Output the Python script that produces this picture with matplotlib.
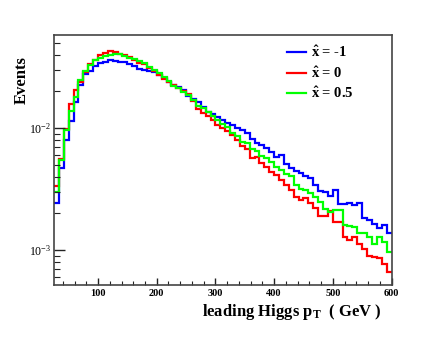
import numpy as np
import matplotlib
matplotlib.use("Agg")
import matplotlib.pyplot as plt
from matplotlib.ticker import MultipleLocator, LogLocator, FixedLocator, FixedFormatter, NullFormatter

plt.rcParams['font.family'] = ['Liberation Serif', 'DejaVu Serif']
plt.rcParams['mathtext.fontset'] = 'custom'
plt.rcParams['mathtext.rm'] = 'Liberation Serif:bold'
plt.rcParams['mathtext.it'] = 'Liberation Serif:bold'
plt.rcParams['mathtext.bf'] = 'Liberation Serif:bold'
plt.rcParams['mathtext.sf'] = 'Liberation Serif'

# histogram binning: 72 bins over 0-600 GeV, shown from 25 GeV
bin_width = 600.0 / 72
edges = bin_width * np.arange(3, 73)

blue = [0.00244, 0.00468, 0.00802, 0.0115, 0.0164, 0.0226, 0.0279, 0.0295, 0.0324, 0.0340,
        0.0349, 0.0366, 0.0353, 0.0352, 0.0349, 0.0337, 0.0324, 0.0306, 0.0301, 0.0295,
        0.0289, 0.0273, 0.0258, 0.0240, 0.0226, 0.0216, 0.0204, 0.0184, 0.0174, 0.0164,
        0.0148, 0.0137, 0.0131, 0.0124, 0.0117, 0.0111, 0.0106, 0.0101, 0.00969, 0.00915,
        0.00817, 0.00758, 0.00730, 0.00690, 0.00639, 0.00582, 0.00604, 0.00510, 0.00473, 0.00447,
        0.00430, 0.00406, 0.00392, 0.00343, 0.00306, 0.00301, 0.00279, 0.00312, 0.00240, 0.00240,
        0.00244, 0.00235, 0.00244, 0.00184, 0.00177, 0.00164, 0.00152, 0.00161, 0.00139]

red = [0.00337, 0.0056, 0.00987, 0.0158, 0.0206, 0.0241, 0.0288, 0.0335, 0.0363, 0.0399,
       0.0412, 0.0430, 0.0422, 0.0406, 0.0399, 0.0384, 0.0363, 0.0345, 0.0337, 0.0312,
       0.0295, 0.0273, 0.0254, 0.0240, 0.0226, 0.0214, 0.0202, 0.0191, 0.0167, 0.0144,
       0.0134, 0.0126, 0.0117, 0.0106, 0.0101, 0.0095, 0.00881, 0.00802, 0.00716, 0.00676,
       0.00571, 0.00582, 0.00520, 0.00482, 0.00438, 0.00414, 0.00377, 0.00343, 0.00312, 0.00274,
       0.00259, 0.00268, 0.00244, 0.00222, 0.00191, 0.00191, 0.00210, 0.00171, 0.00171, 0.00129,
       0.00121, 0.00129, 0.00111, 0.00101, 0.000898, 0.000881, 0.000865, 0.000772, 0.000664]

green = [0.00301, 0.0055, 0.00969, 0.0139, 0.0181, 0.0249, 0.0295, 0.0330, 0.0360, 0.0377,
         0.0388, 0.0399, 0.0406, 0.0403, 0.0391, 0.0379, 0.0370, 0.0356, 0.0343, 0.0318,
         0.0301, 0.0284, 0.0263, 0.0244, 0.0222, 0.0214, 0.0198, 0.0188, 0.0171, 0.0152,
         0.0147, 0.0136, 0.0126, 0.0117, 0.0108, 0.0103, 0.00915, 0.00865, 0.00772, 0.00758,
         0.00676, 0.00651, 0.00593, 0.00571, 0.00529, 0.00482, 0.00455, 0.00422, 0.00406, 0.00343,
         0.00318, 0.00312, 0.00295, 0.00274, 0.00249, 0.00218, 0.00206, 0.00214, 0.00214, 0.00161,
         0.00158, 0.00155, 0.00139, 0.00139, 0.00129, 0.00113, 0.00129, 0.00117, 0.00097]

series = [(blue, '#0000ff', r'$\hat{x}$ = -1'),
          (red, '#ff0000', r'$\hat{x}$ = 0'),
          (green, '#00ff00', r'$\hat{x}$ = 0.5')]

W, H = 436, 354
fig = plt.figure(figsize=(W / 100, H / 100), dpi=100)
fig.patch.set_facecolor('white')
L, R, T, B = 54, 391.5, 34.7, 285
ax = fig.add_axes([L / W, 1 - B / H, (R - L) / W, (B - T) / H])

for vals, col, lab in series:
    ax.stairs(vals, edges, baseline=None, color=col, lw=1.6, label=lab)

ax.set_yscale('log')
ax.set_xlim(25, 600)
ax.set_ylim(5.16e-4, 0.0585)

for s in ax.spines.values():
    s.set_color('#444444')
    s.set_linewidth(1.2)

ax.xaxis.set_major_locator(FixedLocator([100, 200, 300, 400, 500, 600]))
ax.xaxis.set_minor_locator(MultipleLocator(20))
ax.tick_params(axis='x', which='major', direction='in', length=5, width=1, color='#222222',
               labelsize=7.5, pad=3, top=False)
ax.tick_params(axis='x', which='minor', direction='in', length=2.8, width=0.8, color='#222222', top=False)
for t in ax.get_xticklabels():
    t.set_fontweight('bold')

ax.yaxis.set_major_locator(FixedLocator([1e-3, 1e-2]))
ax.yaxis.set_major_formatter(FixedFormatter([r'$\mathsf{10^{-3}}$', r'$\mathsf{10^{-2}}$']))
ax.yaxis.set_minor_locator(LogLocator(base=10, subs=np.arange(2, 10), numticks=20))
ax.yaxis.set_minor_formatter(NullFormatter())
ax.tick_params(axis='y', which='major', direction='in', length=8, width=1, color='#222222',
               labelsize=8.5, pad=2, right=False)
ax.tick_params(axis='y', which='minor', direction='in', length=4.3, width=0.8, color='#222222', right=False)

fig.text(22 / W, 1 - 80 / H, 'Events', rotation=90, ha='center', va='center',
         fontsize=12, fontweight='bold')
fig.text(382 / W, 1 - 316 / H, r'leading Higgs p$_{\mathrm{T}}$  ( GeV )', ha='right', va='baseline',
         fontsize=12, fontweight='bold')

leg = ax.legend(loc='upper left', bbox_to_anchor=((286.7 - L) / (R - L), (B - 45) / (B - T)),
                frameon=False, fontsize=10.5, handlelength=1.35, handletextpad=0.3,
                labelspacing=0.35, borderaxespad=0, borderpad=0)
for t in leg.get_texts():
    t.set_fontweight('bold')

fig.savefig('out.png', dpi=100, facecolor='white')
